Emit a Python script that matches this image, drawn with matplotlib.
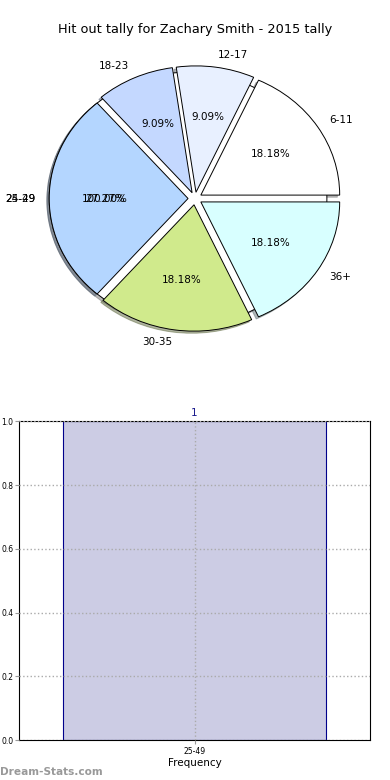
import matplotlib
matplotlib.use('Agg')
import matplotlib.pyplot as plt

# pie data (age groups -> hit outs)
pie_labels = ['6-11', '12-17', '18-23', '24-29', '30-35', '36+']
pie_values = [2, 1, 1, 3, 2, 2]
pie_colors = ['#ffffff', '#e8f0ff', '#c4d8ff', '#b4d6ff', '#d0ea8c', '#d8ffff']

# leftover single-slice pie drawn underneath
old_labels = ['25-49']
old_values = [1]

# bar data
bar_cats = ['25-49']
bar_vals = [1]

title = 'Hit out tally for Zachary Smith - 2015 tally'

fig = plt.figure(figsize=(3.9, 7.8), dpi=100)

shadow_opts = {'ox': -0.012, 'oy': -0.012, 'shade': 0.55}

# top: pie chart (not equal aspect, like the old renderer)
ax1 = fig.add_axes([0.055, 0.543, 0.89, 0.405])
ax1.pie(old_values, labels=old_labels, colors=['white'], explode=[0.05],
        autopct='%1.2f%%', shadow=shadow_opts,
        wedgeprops={'linewidth': 0.7, 'edgecolor': 'black'},
        textprops={'fontsize': 7.5})
ax1.pie(pie_values, labels=pie_labels, colors=pie_colors,
        explode=[0.05] * len(pie_values), autopct='%1.2f%%',
        shadow=shadow_opts,
        wedgeprops={'linewidth': 0.7, 'edgecolor': 'black'},
        textprops={'fontsize': 7.5})
ax1.set_aspect('auto')
ax1.set_xlim(-1.25, 1.25)
ax1.set_ylim(-1.25, 1.25)
fig.text(0.5, 0.962, title, ha='center', va='center', fontsize=9.3)

# bottom: frequency bar
ax2 = fig.add_axes([0.049, 0.051, 0.9, 0.409])
xpos = list(range(len(bar_cats)))
bars = ax2.bar(xpos, bar_vals, width=0.75, color='#ccccE4',
               edgecolor='#00008b', linewidth=0.8)
for b, v in zip(bars, bar_vals):
    ax2.text(b.get_x() + b.get_width() / 2, v + 0.01, str(v),
             ha='center', va='bottom', color='#1a1a8c', fontsize=7.5)
ax2.set_xlim(-0.5, len(bar_cats) - 0.5)
ax2.set_ylim(0, 1.0)
ax2.set_xticks(xpos)
ax2.set_xticklabels(bar_cats, fontsize=5.5)
ax2.set_yticks([0.0, 0.2, 0.4, 0.6, 0.8, 1.0])
ax2.tick_params(axis='y', labelsize=5.5, length=3, color='#999999', pad=1)
ax2.tick_params(axis='x', length=3, color='#999999', pad=2)
ax2.set_axisbelow(False)
ax2.grid(True, linestyle=':', color='#aaaaaa', linewidth=1.0)
ax2.set_xlabel('Frequency', fontsize=7.5, labelpad=1)

fig.text(0.0, 0.004, 'Dream-Stats.com', fontsize=7.6, color='#999999',
         fontweight='bold', ha='left', va='bottom')

fig.savefig('out.png', dpi=100)
